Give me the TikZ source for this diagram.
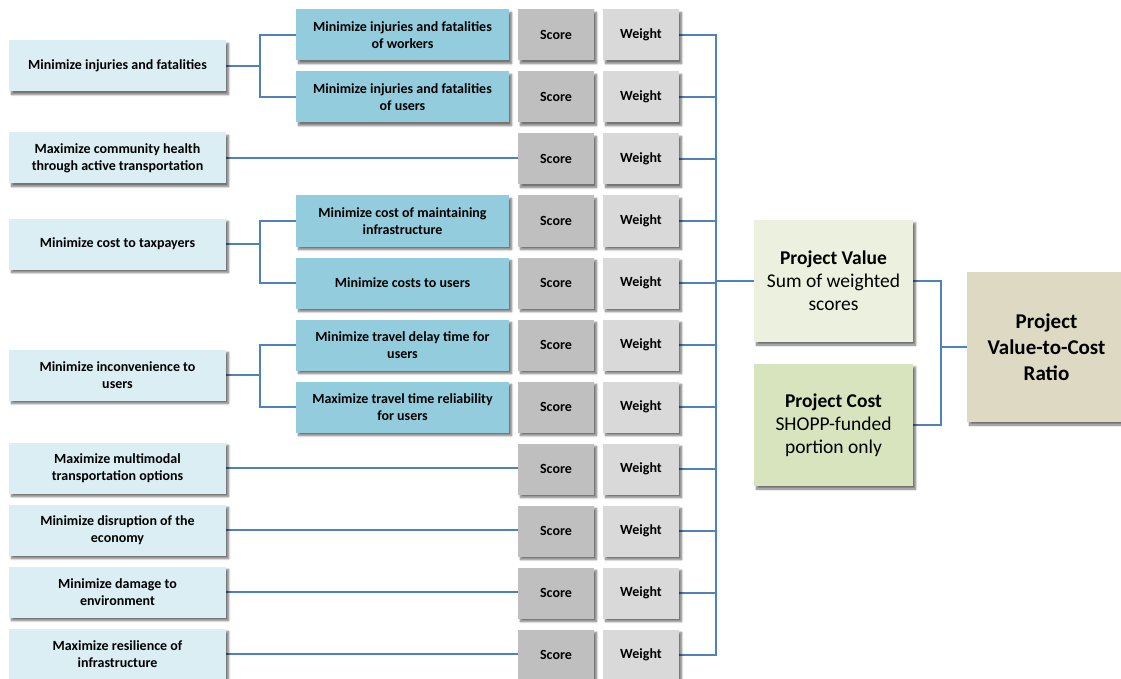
\documentclass[tikz,border=0pt]{standalone}
\usepackage{fontspec}
\setmainfont{Carlito}
\usetikzlibrary{shadows.blur}

\definecolor{goalfill}{HTML}{DBEEF4}
\definecolor{subfill}{HTML}{93CDDD}
\definecolor{scorefill}{HTML}{BFBFBF}
\definecolor{weightfill}{HTML}{D9D9D9}
\definecolor{valuefill}{HTML}{EBF1DE}
\definecolor{costfill}{HTML}{D7E4BD}
\definecolor{ratiofill}{HTML}{DDD9C3}
\definecolor{linkblue}{HTML}{4F81BD}

\pgfdeclarelayer{background}
\pgfsetlayers{background,main}

\begin{document}
\begin{tikzpicture}[x=1pt,y=-1pt,
  box/.style={draw=none, inner sep=2pt, align=center, minimum height=51pt,
    blur shadow={shadow xshift=2.5pt, shadow yshift=-3pt, shadow blur steps=6,
      shadow opacity=55, shadow blur radius=2pt}},
  goal/.style={box, fill=goalfill, minimum width=217pt,
    font=\bfseries\fontsize{14}{17}\selectfont},
  subgoal/.style={box, fill=subfill, minimum width=213pt,
    font=\bfseries\fontsize{14}{17}\selectfont},
  scorebox/.style={box, fill=scorefill, minimum width=76pt,
    font=\bfseries\fontsize{14}{17}\selectfont},
  weightbox/.style={box, fill=weightfill, minimum width=76pt,
    font=\bfseries\fontsize{14}{17}\selectfont},
  summary/.style={box, minimum width=159pt, minimum height=122pt,
    font=\fontsize{19.5}{23}\selectfont},
  conn/.style={draw=linkblue, line width=2.5pt}]

\useasboundingbox (0,0) rectangle (1121,679);

% objective groups on the left
\node[goal] (L1) at (117.5,66)  {Minimize injuries and fatalities};
\node[goal] (L2) at (117.5,158) {Maximize community health\\through active transportation};
\node[goal] (L3) at (117.5,244) {Minimize cost to taxpayers};
\node[goal] (L4) at (117.5,375) {Minimize inconvenience to\\users};
\node[goal] (L5) at (117.5,468) {Maximize multimodal\\transportation options};
\node[goal] (L6) at (117.5,530) {Minimize disruption of the\\economy};
\node[goal] (L7) at (117.5,592) {Minimize damage to\\environment};
\node[goal] (L8) at (117.5,654) {Maximize resilience of\\infrastructure};

% sub-objectives
\node[subgoal] (S1) at (402.5,35)  {Minimize injuries and fatalities\\of workers};
\node[subgoal] (S2) at (402.5,97)  {Minimize injuries and fatalities\\of users};
\node[subgoal] (S4) at (402.5,221) {Minimize cost of maintaining\\infrastructure};
\node[subgoal] (S5) at (402.5,283) {Minimize costs to users};
\node[subgoal] (S6) at (402.5,345) {Minimize travel delay time for\\users};
\node[subgoal] (S7) at (402.5,407) {Maximize travel time reliability\\for users};

% score and weight columns
\foreach \i in {1,...,11} {
  \pgfmathsetmacro{\ry}{35+62*(\i-1)}
  \node[scorebox]  (Sc\i) at (556,\ry) {Score};
  \node[weightbox] (W\i)  at (641,\ry) {Weight};
}

% totals
\node[summary, fill=valuefill] (PV) at (833.5,281)
  {\textbf{Project Value}\\Sum of weighted\\scores};
\node[summary, fill=costfill] (PC) at (833.5,425)
  {\textbf{Project Cost}\\SHOPP-funded\\portion only};
\node[box, fill=ratiofill, minimum width=159pt, minimum height=150pt,
  font=\bfseries\fontsize{21}{26}\selectfont] (R) at (1046.5,347)
  {Project\\Value-to-Cost\\Ratio};

\coordinate (jA) at (260,66);
\coordinate (jB) at (260,244);
\coordinate (jC) at (260,375);
\coordinate (bus) at (716,0);
\coordinate (jR) at (941,347);

\begin{pgfonlayer}{background}
  % branches from objectives to sub-objectives
  \draw[conn] (L1.east) -- (jA);
  \draw[conn] (S1.west) -| (jA);
  \draw[conn] (S2.west) -| (jA);
  \draw[conn] (L3.east) -- (jB);
  \draw[conn] (S4.west) -| (jB);
  \draw[conn] (S5.west) -| (jB);
  \draw[conn] (L4.east) -- (jC);
  \draw[conn] (S6.west) -| (jC);
  \draw[conn] (S7.west) -| (jC);
  % objectives scored directly
  \draw[conn] (L2.east) -- (L2.east -| Sc3.west);
  \draw[conn] (L5.east) -- (L5.east -| Sc8.west);
  \draw[conn] (L6.east) -- (L6.east -| Sc9.west);
  \draw[conn] (L7.east) -- (L7.east -| Sc10.west);
  \draw[conn] (L8.east) -- (L8.east -| Sc11.west);
  % collecting bus of weighted scores
  \foreach \i in {1,...,11} {
    \draw[conn] (W\i.east) -- (W\i.east -| bus);
  }
  \draw[conn, line cap=rect] (W1.east -| bus) -- (W11.east -| bus);
  \draw[conn] (PV.west -| bus) -- (PV.west);
  % value and cost into the ratio
  \draw[conn] (PV.east) -| (jR);
  \draw[conn] (PC.east) -| (jR);
  \draw[conn] (jR) -- (R.west);
\end{pgfonlayer}

\end{tikzpicture}
\end{document}
